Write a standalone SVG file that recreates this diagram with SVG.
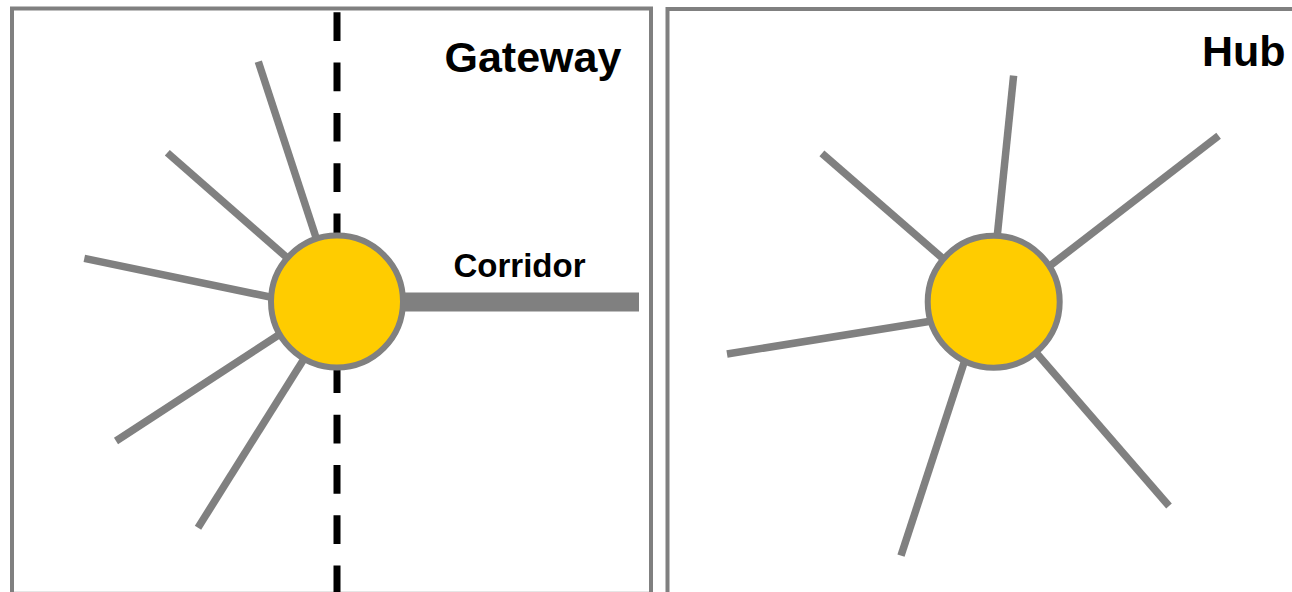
<svg xmlns="http://www.w3.org/2000/svg" width="1292" height="592" viewBox="0 0 1292 592">
  <style>
    .panel { fill: #ffffff; stroke: #808080; stroke-width: 4; }
    .spoke { stroke: #808080; stroke-width: 7.5; fill: none; stroke-linecap: butt; }
    .corridor { stroke: #808080; stroke-width: 19; fill: none; }
    .divider { stroke: #000000; stroke-width: 7; stroke-dasharray: 28.7 21.6; fill: none; }
    .hub { fill: #FFCC00; stroke: #808080; stroke-width: 6; }
    .title { font-family: "Liberation Sans", Arial, sans-serif; font-weight: bold; font-size: 43px; fill: #000000; }
    .label { font-family: "Liberation Sans", Arial, sans-serif; font-weight: bold; font-size: 33px; fill: #000000; }
  </style>
  <rect width="1292" height="592" fill="#ffffff"/>

  <g id="panel-gateway">
    <rect class="panel" x="12" y="8.5" width="639" height="585.3"/>
    <text class="title" x="444.5" y="72">Gateway</text>
  </g>
  <g id="panel-hub">
    <rect class="panel" x="667.5" y="9" width="640" height="586"/>
    <text class="title" x="1202" y="66">Hub</text>
  </g>

  <g id="divider">
    <line class="divider" x1="337" y1="12.3" x2="337" y2="592"/>
  </g>

  <g id="connectors">
    <line class="spoke" x1="258.3" y1="61.7" x2="337" y2="301.5"/>
    <line class="spoke" x1="167.3" y1="152.7" x2="337" y2="301.5"/>
    <line class="spoke" x1="84.3" y1="258.3" x2="337" y2="311"/>
    <line class="spoke" x1="116" y1="441" x2="337" y2="297"/>
    <line class="spoke" x1="198" y1="527.7" x2="340" y2="301.5"/>
    <line class="corridor" x1="337" y1="302" x2="639" y2="302"/>

    <line class="spoke" x1="1013.6" y1="75.7" x2="990.5" y2="301.7"/>
    <line class="spoke" x1="1218.6" y1="135.7" x2="994" y2="309"/>
    <line class="spoke" x1="821.9" y1="153.3" x2="994" y2="303"/>
    <line class="spoke" x1="727" y1="354" x2="994" y2="311"/>
    <line class="spoke" x1="901" y1="555.7" x2="984" y2="301.7"/>
    <line class="spoke" x1="1169" y1="506" x2="992" y2="301.7"/>
  </g>

  <g id="node-gateway">
    <circle class="hub" cx="337" cy="301.5" r="66"/>
    <text class="label" x="453.5" y="277">Corridor</text>
  </g>
  <g id="node-hub">
    <circle class="hub" cx="993.7" cy="301.7" r="66"/>
  </g>
</svg>
